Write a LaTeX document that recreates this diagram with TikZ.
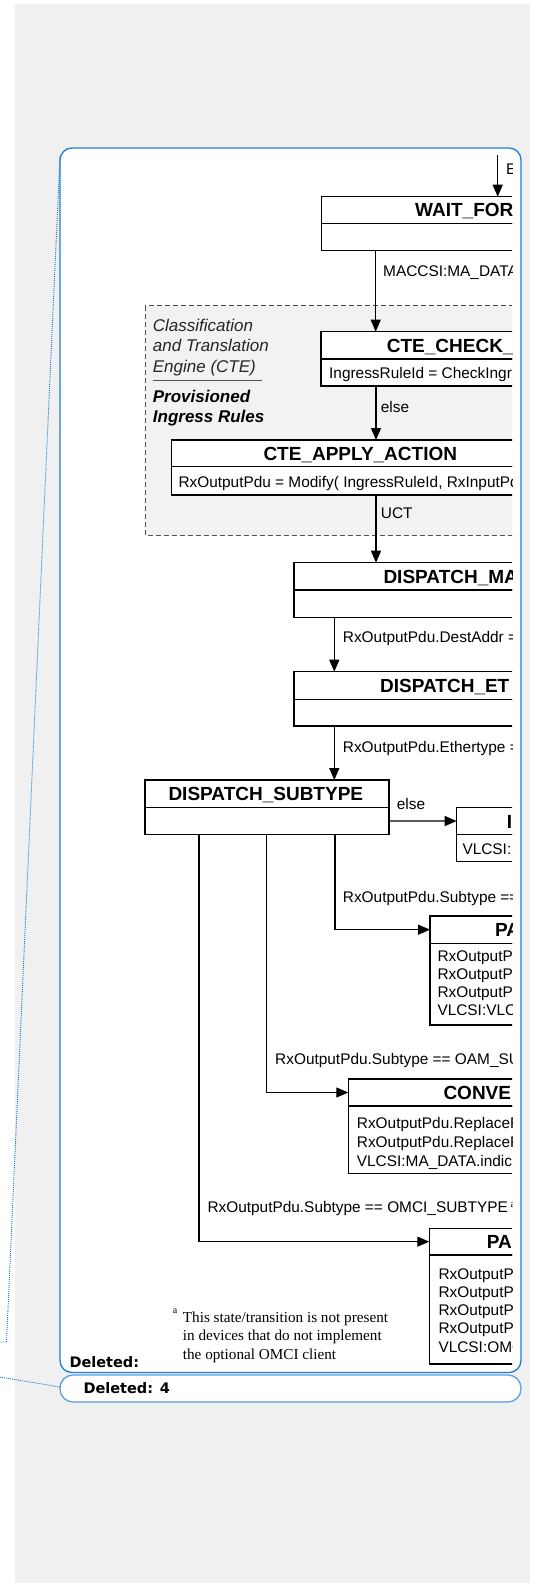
\documentclass[tikz,border=0pt]{standalone}
\usepackage{fontspec}
\setmainfont{Liberation Sans}
\newfontfamily\notefont{Liberation Serif}
\newfontfamily\balloonfont{DejaVu Sans}
\usetikzlibrary{arrows.meta}

\definecolor{panegray}{RGB}{240,240,240}
\definecolor{balloonblue}{RGB}{30,125,215}
\definecolor{balloonlight}{RGB}{90,160,228}
\definecolor{regionline}{RGB}{80,80,80}
\definecolor{regionfill}{RGB}{242,242,242}

\begin{document}
\begin{tikzpicture}[x=1pt, y=-1pt,
  hdr/.style={draw, line width=1.2pt, fill=white, anchor=north west, inner sep=0pt, outer sep=0pt},
  ttl/.style={font=\bfseries\fontsize{19}{22}\selectfont, anchor=base west, inner sep=0pt},
  txt/.style={font=\fontsize{15.4}{18.3}\selectfont, anchor=base west, inner sep=0pt, align=left},
  trans/.style={line width=1.2pt, -{Triangle[length=12pt,width=10pt]}},
  dots/.style={balloonblue, line width=0.9pt, dash pattern=on 1pt off 1pt},
  delmark/.style={font=\balloonfont\bfseries\fontsize{14.5}{17}\selectfont, anchor=base west, inner sep=0pt}]

\useasboundingbox (0,0) rectangle (534,1583);
\fill[white] (0,0) rectangle (534,1583);
\fill[panegray] (15,4) rectangle (530,1583);

% balloons
\draw[balloonblue, line width=1.3pt, fill=white, rounded corners=12pt] (60,148) rectangle (521,1372.5);
\draw[balloonlight, line width=1.3pt, fill=white, rounded corners=13pt] (60,1375) rectangle (521,1402);
\draw[dots] (60,156) -- (6.5,1342) -- (0,1342);
\draw[dots] (0,1377) -- (60,1387);

\begin{scope}
\clip (60,150) rectangle (512,1372);

% CTE area (multi-line nodes sit on their last baseline)
\draw[regionline, fill=regionfill, line width=1pt, dash pattern=on 5pt off 3pt] (145,305.7) rectangle (600,535);
\node[font=\itshape\fontsize{17}{20.5}\selectfont, anchor=base west, inner sep=0pt, align=left, text=black!85] (ctename) at (152.7,372) {Classification\\and Translation\\Engine (CTE)};
\draw[regionline, line width=1pt] (152.7,380) -- (261.7,380);
\node[font=\bfseries\itshape\fontsize{17}{20}\selectfont, anchor=base west, inner sep=0pt, align=left] (cterules) at (152.7,422.8) {Provisioned\\Ingress Rules};

% states
\node[hdr, minimum width=238.3pt, minimum height=26.6pt] (wait) at (321.7,196.7) {};
\node[hdr, minimum width=238.3pt, minimum height=27.4pt] (waitB) at (wait.south west) {};
\node[ttl] (waitT) at (415,216.8) {WAIT\_FOR};

\node[hdr, minimum width=239pt, minimum height=27.3pt] (check) at (321,331.7) {};
\node[hdr, minimum width=239pt, minimum height=27pt] (checkB) at (check.south west) {};
\node[ttl] (checkT) at (386.7,352) {CTE\_CHECK\_};
\node[txt] (checkX) at (329,378.5) {IngressRuleId = CheckIngr};

\node[hdr, minimum width=388.3pt, minimum height=26.7pt] (apply) at (171.7,440) {};
\node[hdr, minimum width=388.3pt, minimum height=28.3pt] (applyB) at (apply.south west) {};
\node[ttl] (applyT) at (263.3,460) {CTE\_APPLY\_ACTION};
\node[txt] (applyX) at (178.3,487) {RxOutputPdu = Modify( IngressRuleId, RxInputPd};

\node[hdr, minimum width=266pt, minimum height=27.3pt] (dma) at (294,562.7) {};
\node[hdr, minimum width=266pt, minimum height=27.3pt] (dmaB) at (dma.south west) {};
\node[ttl] (dmaT) at (383.3,583) {DISPATCH\_MA};

\node[hdr, minimum width=266pt, minimum height=27.6pt] (det) at (294,671.7) {};
\node[hdr, minimum width=266pt, minimum height=26.7pt] (detB) at (det.south west) {};
\node[ttl] (detT) at (380,692) {DISPATCH\_ET};

\node[hdr, minimum width=244pt, minimum height=27.7pt] (dsub) at (145,780) {};
\node[hdr, minimum width=244pt, minimum height=26.6pt] (dsubB) at (dsub.south west) {};
\node[ttl] (dsubT) at (168.3,800.5) {DISPATCH\_SUBTYPE};

\node[hdr, minimum width=103.3pt, minimum height=26.6pt] (disc) at (456.7,807.7) {};
\node[hdr, minimum width=103.3pt, minimum height=27.4pt] (discB) at (disc.south west) {};
\node[ttl] (discT) at (506.7,828) {I};
\node[txt] (discX) at (462.3,854) {VLCSI:};

\node[hdr, minimum width=130pt, minimum height=27.3pt] (pa1) at (430,916) {};
\node[hdr, minimum width=130pt, minimum height=81.7pt] (pa1B) at (pa1.south west) {};
\node[ttl] (pa1T) at (495,936.5) {PA};
\node[txt, font=\fontsize{15.4}{17.8}\selectfont] (pa1X) at (437.3,1015) {RxOutputP\\RxOutputP\\RxOutputP\\VLCSI:VLC};

\node[hdr, minimum width=211.7pt, minimum height=27pt] (conv) at (348.3,1079) {};
\node[hdr, minimum width=211.7pt, minimum height=67.3pt] (convB) at (conv.south west) {};
\node[ttl] (convT) at (443.3,1099) {CONVE};
\node[txt, font=\fontsize{15.4}{19}\selectfont] (convX) at (356.7,1166.3) {RxOutputPdu.ReplaceF\\RxOutputPdu.ReplaceF\\VLCSI:MA\_DATA.indic};

\node[hdr, minimum width=130.7pt, minimum height=26.7pt] (pa2) at (429.3,1228.3) {};
\node[hdr, minimum width=130.7pt, minimum height=109pt] (pa2B) at (pa2.south west) {};
\node[ttl] (pa2T) at (486.7,1248.5) {PA};
\node[txt] (pa2X) at (438.3,1352.2) {RxOutputP\\RxOutputP\\RxOutputP\\RxOutputP\\VLCSI:OMC};

% transitions
\coordinate (entry) at (497.7,155);
\draw[trans] (entry) -- (entry |- wait.north);
\draw[trans] ([xshift=54pt]waitB.south west) coordinate (t1) -- (t1 |- check.north);
\draw[trans] ([xshift=55pt]checkB.south west) coordinate (t2) -- (t2 |- apply.north);
\draw[trans] ([xshift=204.3pt]applyB.south west) coordinate (t3) -- (t3 |- dma.north);
\draw[trans] ([xshift=40.3pt]dmaB.south west) coordinate (t4) -- (t4 |- det.north);
\draw[trans] ([xshift=40.3pt]detB.south west) coordinate (t5) -- (t5 |- dsub.north);
\draw[trans] (dsubB.east) -- (disc.west);
\draw[trans] ([xshift=190pt]dsubB.south west) |- (pa1.west);
\draw[trans] ([xshift=121.7pt]dsubB.south west) |- (conv.west);
\draw[trans] ([xshift=54pt]dsubB.south west) |- (pa2.west);

\node[txt] (lble) at (506,174) {E};
\node[txt] (lblmac) at (383,276.3) {MACCSI:MA\_DATA};
\node[txt] (lblelse) at (380.7,412.3) {else};
\node[txt] (lbluct) at (380.7,518) {UCT};
\node[txt] (lbldest) at (342.7,642.3) {RxOutputPdu.DestAddr =};
\node[txt] (lbleth) at (342.7,752.3) {RxOutputPdu.Ethertype =};
\node[txt] (lblother) at (396.7,809.6) {else};
\node[txt] (lblsub) at (342.7,902.3) {RxOutputPdu.Subtype ==};
\node[txt] (lbloam) at (275,1064) {RxOutputPdu.Subtype == OAM\_SU};
\node[txt] (lblomci) at (207.3,1212.3) {RxOutputPdu.Subtype == OMCI\_SUBTYPE\,\textsuperscript{\notefont a}};

% footnote
\node[font=\notefont\fontsize{10}{12}\selectfont, anchor=base west, inner sep=0pt] (notemark) at (172.7,1313) {a};
\node[font=\notefont\fontsize{15.2}{18.8}\selectfont, anchor=base west, inner sep=0pt, align=left] (note) at (182.7,1359.6) {This state/transition is not present\\ in devices that do not implement\\ the optional OMCI client};
\end{scope}

\node[delmark] (del1) at (69.3,1367.8) {Deleted:};
\node[delmark] (del2) at (83.3,1393.4) {Deleted: 4};
\end{tikzpicture}
\end{document}
